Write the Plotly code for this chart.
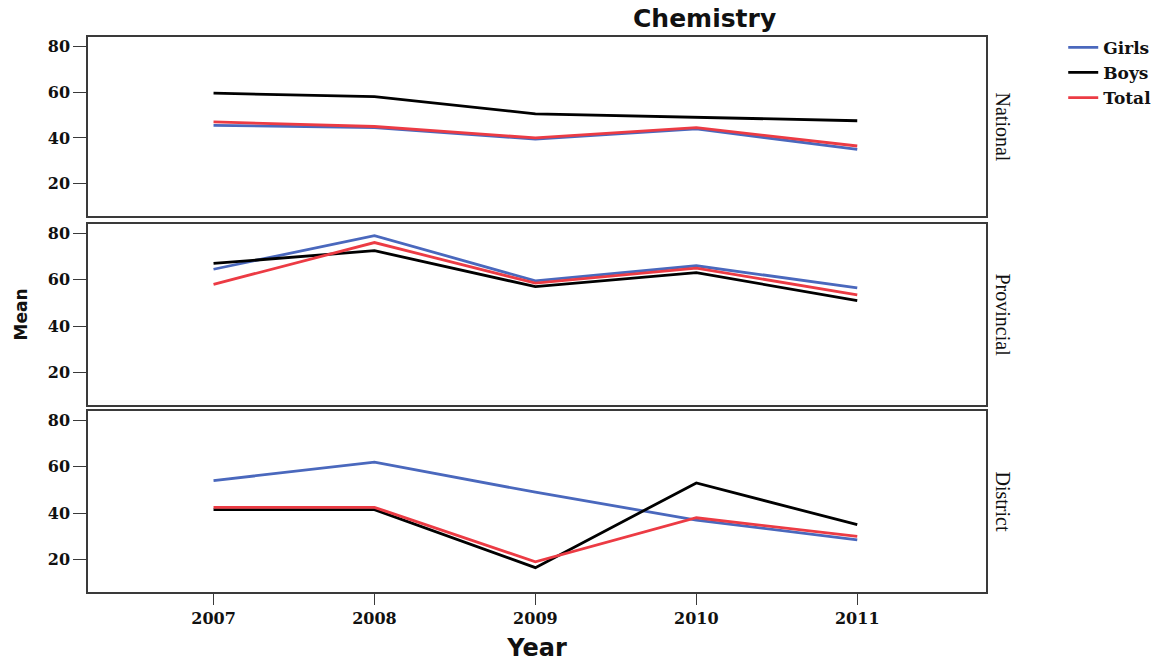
import plotly.graph_objects as go

years = [2007, 2008, 2009, 2010, 2011]
panels = ["National", "Provincial", "District"]

national_girls = [45.5, 44.5, 39.5, 44.0, 35.0]
national_boys = [59.5, 58.0, 50.5, 49.0, 47.5]
national_total = [47.0, 45.0, 40.0, 44.5, 36.5]

provincial_girls = [64.5, 79.0, 59.5, 66.0, 56.5]
provincial_boys = [67.0, 72.5, 57.0, 63.0, 51.0]
provincial_total = [58.0, 76.0, 58.5, 65.0, 53.5]

district_girls = [54.0, 62.0, 49.0, 37.0, 28.5]
district_boys = [41.5, 41.5, 16.5, 53.0, 35.0]
district_total = [42.5, 42.5, 19.0, 38.0, 30.0]

series_names = ["Girls", "Boys", "Total"]
colors = {"Girls": "#4a68bd", "Boys": "#000000", "Total": "#ec3b44"}

data = {
    "National": [national_girls, national_boys, national_total],
    "Provincial": [provincial_girls, provincial_boys, provincial_total],
    "District": [district_girls, district_boys, district_total],
}

fig = go.Figure()
for i, p in enumerate(panels):
    ax = "" if i == 0 else str(i + 1)
    for j, name in enumerate(series_names):
        fig.add_trace(go.Scatter(
            x=years, y=data[p][j], mode="lines", name=name,
            line=dict(color=colors[name], width=2.8),
            showlegend=(i == 0), legendgroup=name,
            xaxis="x" + ax, yaxis="y" + ax,
        ))

H = 665
top, bottom = 37, 73
ph = H - top - bottom
pix = [(37, 216), (224, 405), (411, 592)]
domains = [[(H - bottom - b) / ph, (H - bottom - t) / ph] for t, b in pix]

tickfont = dict(family="DejaVu Serif", size=16, color="#111", weight="bold")
axcommon = dict(showgrid=False, zeroline=False, showline=True, mirror=True,
                linecolor="#3a3a3a", linewidth=1.5, automargin=False)

layout = dict(
    width=1168, height=665,
    margin=dict(l=88, r=182, t=top, b=bottom, autoexpand=False),
    plot_bgcolor="white", paper_bgcolor="white",
    showlegend=True,
    legend=dict(x=1.086, y=1.013, xanchor="left", yanchor="top",
                font=dict(family="DejaVu Serif", size=17, color="#111", weight="bold"),
                itemwidth=30, tracegroupgap=0, bgcolor="rgba(0,0,0,0)"),
)
for i in range(3):
    ax = "" if i == 0 else str(i + 1)
    layout["xaxis" + ax] = dict(
        axcommon, range=[2006.22, 2011.8], anchor="y" + ax,
        tickvals=years, ticks="outside" if i == 2 else "", ticklen=11,
        tickcolor="#3a3a3a", showticklabels=(i == 2), tickfont=tickfont,
        matches=None if i == 0 else "x",
    )
    layout["yaxis" + ax] = dict(
        axcommon, range=[6, 84], domain=domains[i], anchor="x" + ax,
        tickvals=[20, 40, 60, 80], ticks="outside", ticklen=13, tickcolor="#3a3a3a",
        tickfont=tickfont,
    )
layout["xaxis3"]["title"] = dict(text="Year", font=dict(family="DejaVu Sans", size=24, color="#111", weight="bold"), standoff=12)

fig.update_layout(**layout)

annos = [
    dict(text="Chemistry", x=0.686, y=1.0, xref="paper", yref="paper", yanchor="middle",
         xanchor="center", showarrow=False, yshift=19,
         font=dict(family="DejaVu Sans", size=25, color="#111", weight="bold")),
    dict(text="Mean", x=-0.0757, y=0.5, xref="paper", yref="paper", textangle=-90,
         xanchor="center", yanchor="middle",
         showarrow=False, font=dict(family="DejaVu Sans", size=17, color="#111", weight="bold")),
]
for i, p in enumerate(panels):
    annos.append(dict(text=p, x=1.0, xshift=17, y=sum(domains[i]) / 2, xref="paper", yref="paper",
                      xanchor="center", yanchor="middle",
                      textangle=90, showarrow=False,
                      font=dict(family="Liberation Serif", size=20, color="#111")))
fig.update_layout(annotations=annos)

fig.write_html("out.html")
